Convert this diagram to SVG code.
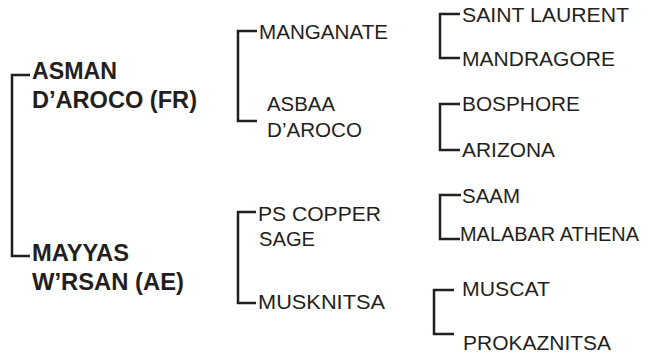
<svg xmlns="http://www.w3.org/2000/svg" width="648" height="354" viewBox="0 0 648 354">
<style>
.r{font-family:"Liberation Sans",Arial,sans-serif;font-size:20px;fill:#231f20}
.b{font-family:"Liberation Sans",Arial,sans-serif;font-size:23px;font-weight:bold;fill:#231f20}
.c{fill:none;stroke:#231f20;stroke-width:2.5;stroke-linejoin:miter;stroke-linecap:butt}
</style>
<rect width="648" height="354" fill="#ffffff"/>
<g id="connectors">
<path class="c" d="M30,75 H12 V256 H30"/>
<path class="c" d="M257,31 H238 V121 H257"/>
<path class="c" d="M256,212 H238 V303 H256"/>
<path class="c" d="M460,14 H440 V58 H460"/>
<path class="c" d="M460,104 H440 V150 H460"/>
<path class="c" d="M461,195 H440 V239 H460"/>
<path class="c" d="M454,290 H434 V334 H454"/>
</g>
<g id="asman">
<text class="b" x="32" y="79" textLength="85" lengthAdjust="spacingAndGlyphs">ASMAN</text>
<text class="b" x="32" y="108" textLength="165" lengthAdjust="spacingAndGlyphs">D’AROCO (FR)</text>
</g>
<g id="mayyas">
<text class="b" x="32" y="261" textLength="97" lengthAdjust="spacingAndGlyphs">MAYYAS</text>
<text class="b" x="32" y="290" textLength="152" lengthAdjust="spacingAndGlyphs">W’RSAN (AE)</text>
</g>
<g id="manganate">
<text class="r" x="259" y="39" textLength="129" lengthAdjust="spacingAndGlyphs">MANGANATE</text>
</g>
<g id="asbaa">
<text class="r" x="267" y="111" textLength="68" lengthAdjust="spacingAndGlyphs">ASBAA</text>
<text class="r" x="267" y="137" textLength="95" lengthAdjust="spacingAndGlyphs">D’AROCO</text>
</g>
<g id="pscopper">
<text class="r" x="258" y="221" textLength="123" lengthAdjust="spacingAndGlyphs">PS COPPER</text>
<text class="r" x="259" y="246" textLength="56" lengthAdjust="spacingAndGlyphs">SAGE</text>
</g>
<g id="musknitsa">
<text class="r" x="258" y="309" textLength="127" lengthAdjust="spacingAndGlyphs">MUSKNITSA</text>
</g>
<g id="saintlaurent">
<text class="r" x="462" y="22" textLength="167" lengthAdjust="spacingAndGlyphs">SAINT LAURENT</text>
</g>
<g id="mandragore">
<text class="r" x="462" y="66" textLength="153" lengthAdjust="spacingAndGlyphs">MANDRAGORE</text>
</g>
<g id="bosphore">
<text class="r" x="462" y="111" textLength="118" lengthAdjust="spacingAndGlyphs">BOSPHORE</text>
</g>
<g id="arizona">
<text class="r" x="462" y="157" textLength="93" lengthAdjust="spacingAndGlyphs">ARIZONA</text>
</g>
<g id="saam">
<text class="r" x="462" y="203" textLength="58" lengthAdjust="spacingAndGlyphs">SAAM</text>
</g>
<g id="malabar">
<text class="r" x="460" y="241" textLength="179" lengthAdjust="spacingAndGlyphs">MALABAR ATHENA</text>
</g>
<g id="muscat">
<text class="r" x="462" y="296" textLength="88" lengthAdjust="spacingAndGlyphs">MUSCAT</text>
</g>
<g id="prokaznitsa">
<text class="r" x="463" y="350" textLength="148" lengthAdjust="spacingAndGlyphs">PROKAZNITSA</text>
</g>
</svg>
